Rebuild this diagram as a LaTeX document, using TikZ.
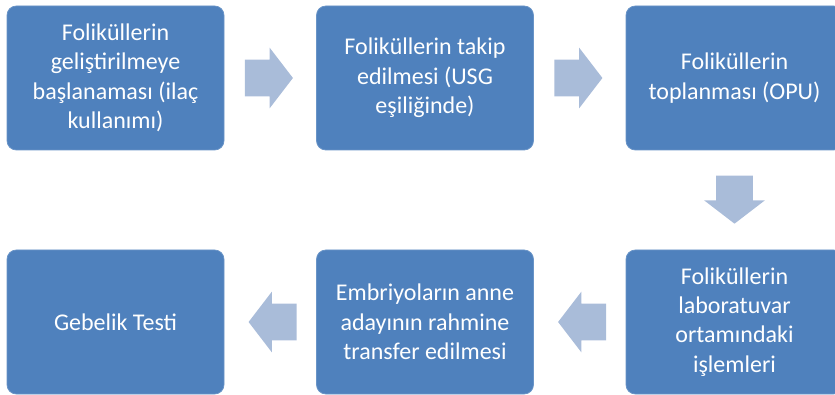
\documentclass[tikz,border=0pt]{standalone}
\usepackage{fontspec}
\setmainfont{Carlito}
\usepackage{tikz}
\usetikzlibrary{shapes.arrows}
\usetikzlibrary{calc}

\definecolor{boxblue}{HTML}{4F81BD}
\definecolor{arrowblue}{HTML}{A9BCD9}

\begin{document}
\begin{tikzpicture}[x=0.75pt,y=-0.75pt,
  stage/.style={rectangle, rounded corners=7pt, fill=boxblue, draw=boxblue!85!white,
    line width=0.6pt, minimum width=\boxw, minimum height=\boxh,
    align=center, text=white, font=\fontsize{18}{22}\selectfont, inner sep=0pt},
  flow/.style={single arrow, fill=arrowblue, draw=none, minimum height=36pt,
    inner xsep=0pt, inner ysep=13.5pt, single arrow head extend=9pt,
    single arrow tip angle=105, single arrow head indent=0pt, anchor=tip}]
  % Define the box width and height
  \def\boxw{162.75pt}
  \def\boxh{108pt}

  \useasboundingbox (0,0) rectangle (835,395);

  % Draw the top row
  \node[stage] (gelistirme) at (115.5,78) {Foliküllerin\\geliştirilmeye\\başlanaması (ilaç\\kullanımı)};
  \node[stage] (takip) at (425,78) {Foliküllerin takip\\edilmesi (USG\\eşiliğinde)};
  \node[stage] (toplanma) at (734.5,78) {Foliküllerin\\toplanması (OPU)};

  % Draw the bottom row
  \node[stage] (laboratuvar) at (734.5,322) {Foliküllerin\\laboratuvar\\ortamındaki\\işlemleri};
  \node[stage] (transfer) at (425,322) {Embriyoların anne\\adayının rahmine\\transfer edilmesi};
  \node[stage] (gebelik) at (115.5,322) {Gebelik Testi};

  % Draw the block arrows (placed by their tips)
  \node[flow] (ok1) at ($(gelistirme.east)!0.5!(takip.west)+(23,0)$) {};
  \node[flow] (ok2) at ($(takip.east)!0.5!(toplanma.west)+(23,0)$) {};
  \node[flow, rotate=-90] (ok3) at ($(toplanma.south)!0.5!(laboratuvar.north)+(0,24)$) {};
  \node[flow, rotate=180] (ok4) at ($(laboratuvar.west)!0.5!(transfer.east)+(-22,0)$) {};
  \node[flow, rotate=180] (ok5) at ($(transfer.west)!0.5!(gebelik.east)+(-22,0)$) {};

\end{tikzpicture}
\end{document}
